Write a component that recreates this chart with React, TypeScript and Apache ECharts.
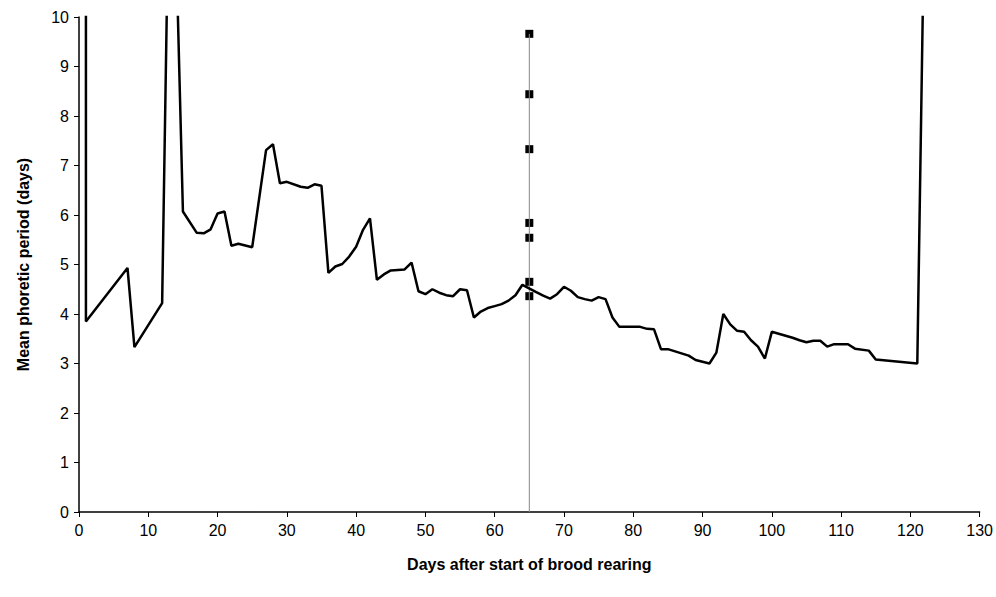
import { useEffect, useRef } from "react";
import * as echarts from "echarts";

// days after start of brood rearing
const days = [
  1, 1, 7, 8, 12, 13, 14, 15, 17, 18, 19, 20, 21, 22, 23, 25, 27, 28, 29, 30,
  32, 33, 34, 35, 36, 37, 38, 39, 40, 41, 42, 43, 44, 45, 47, 48, 49, 50, 51,
  52, 53, 54, 55, 56, 57, 58, 59, 60, 61, 62, 63, 64, 66, 67, 68, 69, 70, 71,
  72, 73, 74, 75, 76, 77, 78, 81, 82, 83, 84, 85, 88, 89, 91, 92, 93, 94, 95,
  96, 97, 98, 99, 100, 101, 102, 103, 104, 105, 106, 107, 108, 109, 111, 112,
  114, 115, 121, 122,
];
// mean phoretic period (days); values above 10 run off the top of the axis
const period = [
  12, 3.85, 4.93, 3.33, 4.22, 13, 11.5, 6.07, 5.64, 5.63, 5.71, 6.03, 6.07,
  5.38, 5.42, 5.35, 7.31, 7.43, 6.64, 6.67, 6.57, 6.55, 6.62, 6.59, 4.83, 4.96,
  5.01, 5.16, 5.36, 5.7, 5.93, 4.69, 4.8, 4.88, 4.9, 5.04, 4.46, 4.4, 4.5, 4.43,
  4.38, 4.36, 4.5, 4.48, 3.93, 4.05, 4.12, 4.16, 4.2, 4.27, 4.38, 4.59, 4.44,
  4.37, 4.31, 4.4, 4.55, 4.47, 4.34, 4.3, 4.27, 4.34, 4.3, 3.93, 3.74, 3.74,
  3.7, 3.69, 3.29, 3.29, 3.16, 3.07, 3.0, 3.22, 4.0, 3.79, 3.66, 3.64, 3.47,
  3.34, 3.1, 3.64, 3.6, 3.56, 3.52, 3.47, 3.43, 3.46, 3.46, 3.34, 3.39, 3.39,
  3.3, 3.26, 3.08, 3.0, 12,
];
// markers at day 65
const markerDay = 65;
const markerValues = [9.66, 8.44, 7.33, 5.84, 5.54, 4.65, 4.36];

export default function App() {
  const ref = useRef<HTMLDivElement>(null);

  useEffect(() => {
    if (!ref.current) return;
    const chart = echarts.init(ref.current, undefined, { renderer: "svg" });
    const axisText = { color: "#000", fontSize: 16, fontFamily: "Liberation Sans, Arial" };
    chart.setOption({
      animation: false,
      grid: { left: 79, right: 16, top: 17, bottom: 85 },
      xAxis: {
        type: "value",
        min: 0,
        max: 130,
        interval: 10,
        name: "Days after start of brood rearing",
        nameLocation: "middle",
        nameGap: 44,
        nameTextStyle: { ...axisText, fontWeight: "bold" },
        axisLabel: { ...axisText, margin: 10 },
        axisLine: { lineStyle: { color: "#000", width: 1.5 } },
        axisTick: { lineStyle: { color: "#000" }, length: 5 },
        splitLine: { show: false },
      },
      yAxis: {
        type: "value",
        min: 0,
        max: 10,
        interval: 1,
        name: "Mean phoretic period (days)",
        nameLocation: "middle",
        nameGap: 48,
        nameTextStyle: { ...axisText, fontWeight: "bold" },
        axisLabel: { ...axisText, margin: 10 },
        axisLine: { show: true, lineStyle: { color: "#000", width: 1.5 } },
        axisTick: { show: true, lineStyle: { color: "#000" }, length: 5 },
        splitLine: { show: false },
      },
      series: [
        {
          type: "line",
          data: [[markerDay, 0], [markerDay, markerValues[0]]],
          symbol: "none",
          lineStyle: { color: "#888", width: 1 },
        },
        {
          type: "line",
          data: days.map((d, i) => [d, period[i]]),
          symbol: "none",
          clip: true,
          lineStyle: { color: "#000", width: 2.5 },
        },
        {
          type: "scatter",
          data: markerValues.map((v) => [markerDay, v]),
          symbol: "rect",
          symbolSize: 8,
          itemStyle: { color: "#000", opacity: 1 },
        },
      ],
    });
    return () => chart.dispose();
  }, []);

  return (
    <div
      ref={ref}
      style={{ position: "absolute", left: 0, top: 0, width: 996, height: 597 }}
    />
  );
}
